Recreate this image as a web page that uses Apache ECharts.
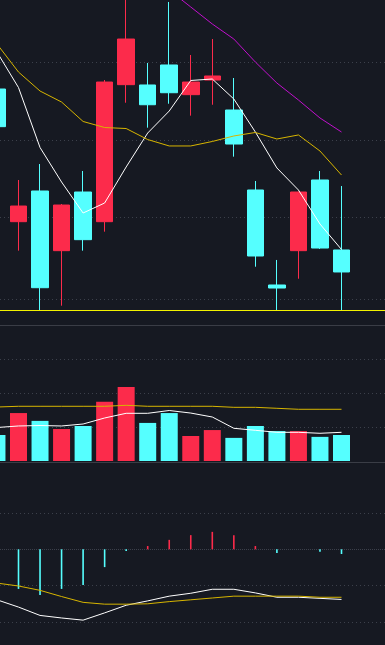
<!DOCTYPE html>
<html><head><meta charset="utf-8">
<script src="https://cdn.jsdelivr.net/npm/echarts@6/dist/echarts.min.js"></script>
<style>html,body{margin:0;padding:0;background:#161922;}#c{width:385px;height:645px;}</style>
</head><body><div id="c"></div>
<script>
// ---- price candles ----
const opens  = [12.658, 10.946, 11.342, 10.572, 11.329, 10.946, 12.714, 12.710, 12.968, 12.585, 12.774, 12.387, 11.355, 10.129, 10.572, 11.484, 10.581];
const closes = [12.172, 11.148, 10.094, 11.161, 10.714, 12.748, 13.303, 12.455, 12.610, 12.748, 12.826, 11.948, 10.503, 10.090, 11.329, 10.606, 10.297];
const lows   = [12.100, 10.572, 9.800, 9.862, 10.572, 10.817, 12.481, 12.159, 12.468, 12.314, 12.455, 11.785, 10.365, 9.800, 10.210, 10.594, 9.800];
const highs  = [12.750, 11.484, 11.690, 11.174, 11.600, 12.774, 13.950, 12.994, 13.781, 13.097, 13.303, 12.800, 11.471, 10.452, 11.335, 11.600, 11.406];
// ---- price moving averages ----
const ma5  = [13.135, 12.677, 11.903, 11.458, 11.058, 11.187, 11.652, 12.090, 12.374, 12.768, 12.787, 12.529, 12.103, 11.639, 11.355, 10.916, 10.587];
const ma10 = [13.239, 12.877, 12.632, 12.490, 12.239, 12.161, 12.148, 12.006, 11.923, 11.923, 11.981, 12.052, 12.097, 12.013, 12.065, 11.858, 11.548];
const ma20 = [null, null, null, null, null, null, null, 14.142, 13.935, 13.716, 13.497, 13.303, 13.006, 12.735, 12.516, 12.284, 12.103];
// ---- volume ----
const volumes = [7650, 14100, 11800, 9400, 10300, 17400, 21800, 11200, 14100, 7350, 9100, 6800, 10300, 8800, 8800, 7100, 7650];
const volMa5  = [9850, 10300, 10440, 10300, 10880, 12650, 14030, 14030, 14850, 14100, 12940, 9620, 9030, 8440, 8440, 8150, 8440];
const volMa10 = [15880, 16090, 16090, 16090, 16090, 16090, 16380, 16090, 16090, 16090, 16090, 15790, 15790, 15500, 15210, 15210, 15210];
// ---- MACD ----
const macdHist = [-0.110, -0.109, -0.126, -0.109, -0.098, -0.049, -0.005, 0.009, 0.026, 0.039, 0.048, 0.039, 0.009, -0.010, 0.000, -0.007, -0.013];
const dif = [-0.139, -0.159, -0.182, -0.189, -0.195, -0.175, -0.154, -0.142, -0.129, -0.121, -0.110, -0.110, -0.120, -0.132, -0.132, -0.135, -0.138];
const dea = [-0.093, -0.101, -0.113, -0.130, -0.146, -0.151, -0.151, -0.150, -0.144, -0.139, -0.134, -0.129, -0.129, -0.129, -0.129, -0.132, -0.132];
// ---- reference grid levels ----
const priceLevels = [13.0, 12.0, 11.0, 9.95];
const priceBase = [9.80];
const volLevels = [10000, 20000, 30000];
const macdLevels = [0.1, -0.1, -0.2];
const macdZero = [0];

const RED = '#fc2b4b', CYAN = '#55ffff', WHITE = '#ffffff', YEL = '#d7b500', MAG = '#c010cc';
const GRIDC = '#3c404b', SEP = '#3a3d46';
const idx = opens.map((_, i) => i);
const pts = arr => idx.map(i => [i, arr[i] == null ? '-' : arr[i]]);
const up = i => closes[i] >= opens[i];

function mk(levels, dash, color, z) {
  return {
    silent: true, symbol: ['none', 'none'], z: z == null ? 1 : z, animation: false,
    label: { show: false },
    lineStyle: { color: color || GRIDC, type: dash, width: 1, opacity: 1 },
    emphasis: { disabled: true },
    data: levels.map(v => ({ yAxis: v }))
  };
}
function lineS(name, arr, color, xi, extra) {
  return Object.assign({
    name, type: 'line', xAxisIndex: xi, yAxisIndex: xi, data: pts(arr),
    showSymbol: false, symbol: 'none', z: 3,
    lineStyle: { color, width: 1 }, itemStyle: { color }
  }, extra || {});
}
const xBase = { type: 'value', min: 0.1409, max: 18.02, axisTick: { show: false }, axisLabel: { show: false }, splitLine: { show: false } };

const chart = echarts.init(document.getElementById('c'), null, { renderer: 'canvas' });
chart.setOption({
  backgroundColor: '#161922',
  animation: false,
  grid: [
    { left: 0, right: 0, top: 0, height: 311 },
    { left: 0, right: 0, top: 325, height: 136 },
    { left: 0, right: 0, top: 462, height: 183 }
  ],
  xAxis: [
    Object.assign({ gridIndex: 0, position: 'bottom', axisLine: { show: false } }, xBase),
    Object.assign({ gridIndex: 1, position: 'top', axisLine: { show: true, onZero: false, lineStyle: { color: SEP, width: 1 } } }, xBase),
    Object.assign({ gridIndex: 2, position: 'top', axisLine: { show: true, onZero: false, lineStyle: { color: SEP, width: 1 } } }, xBase)
  ],
  yAxis: [
    { gridIndex: 0, type: 'value', min: 9.7935, max: 13.8065, show: false, splitLine: { show: false } },
    { gridIndex: 1, type: 'value', min: 0, max: 40000, show: false, splitLine: { show: false } },
    { gridIndex: 2, type: 'value', min: -0.2634, max: 0.2403, show: false, splitLine: { show: false } }
  ],
  series: [
    {
      name: 'K', type: 'candlestick', xAxisIndex: 0, yAxisIndex: 0, barWidth: 17, z: 2,
      data: idx.map(i => [i, opens[i], closes[i], lows[i], highs[i]]),
      itemStyle: { color: RED, color0: CYAN, borderColor: RED, borderColor0: CYAN, borderWidth: 1 },
      markLine: mk(priceLevels, [1, 3])
    },
    lineS('MA5', ma5, WHITE, 0),
    lineS('MA10', ma10, YEL, 0, { markLine: mk(priceBase, 'solid', '#f2f200', 6) }),
    lineS('MA20', ma20, MAG, 0),
    {
      name: 'VOL', type: 'bar', xAxisIndex: 1, yAxisIndex: 1, barWidth: 17, z: 2,
      data: idx.map(i => ({ value: [i, volumes[i]], itemStyle: { color: up(i) ? RED : CYAN } })),
      markLine: mk(volLevels, [1, 3])
    },
    lineS('VMA5', volMa5, WHITE, 1),
    lineS('VMA10', volMa10, YEL, 1),
    {
      name: 'MACD', type: 'bar', xAxisIndex: 2, yAxisIndex: 2, barWidth: 1.6, z: 2,
      data: idx.map(i => ({ value: [i, macdHist[i]], itemStyle: { color: macdHist[i] >= 0 ? RED : CYAN } })),
      markLine: mk(macdLevels, [1, 3])
    },
    lineS('DIF', dif, WHITE, 2, { markLine: mk(macdZero, [1, 1]) }),
    lineS('DEA', dea, YEL, 2)
  ]
});
</script></body></html>
